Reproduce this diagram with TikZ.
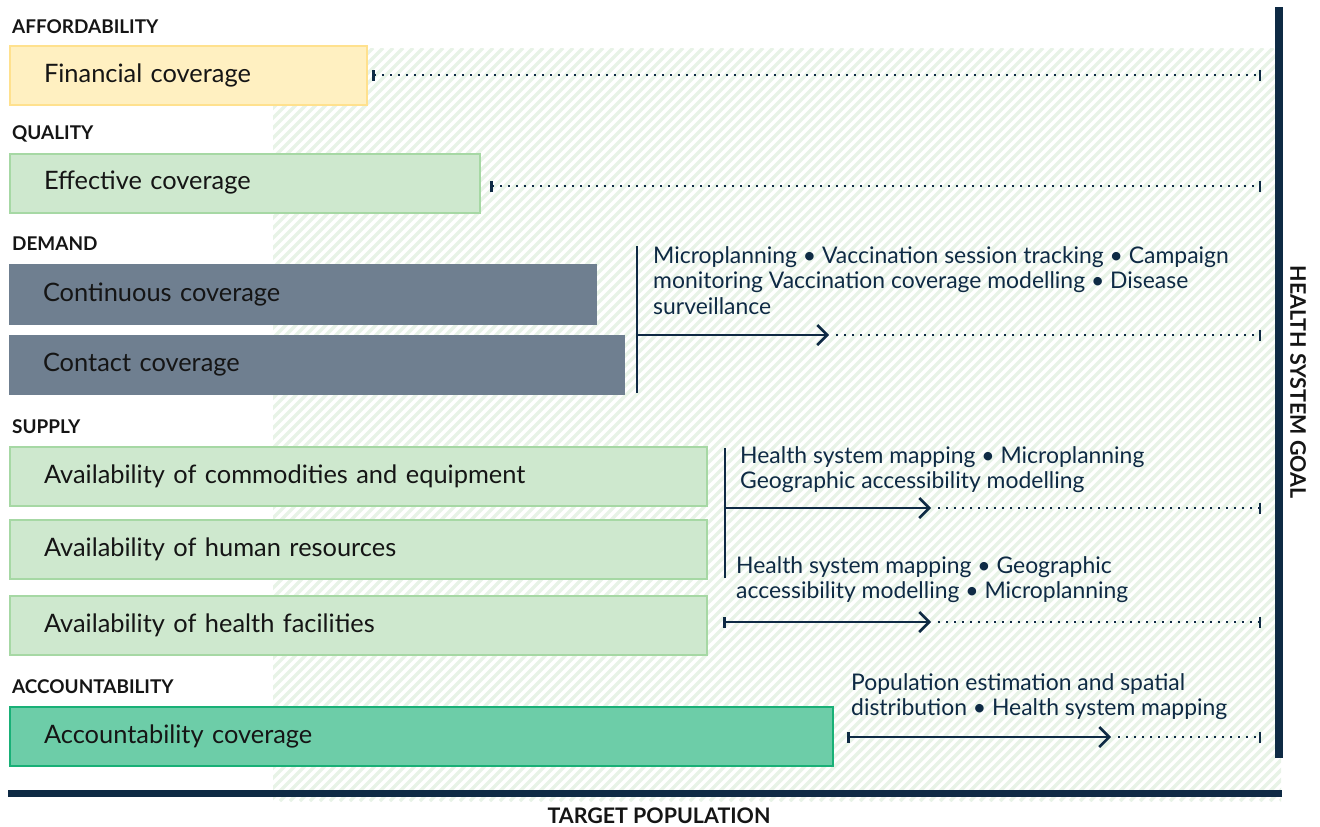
\documentclass[tikz,border=0pt]{standalone}
\usepackage{fontspec}
\setmainfont{Lato}
\usetikzlibrary{arrows.meta}
\definecolor{finFill}{HTML}{FFF0C1}
\definecolor{finLine}{HTML}{FFE18E}
\definecolor{lgFill}{HTML}{CEE8CE}
\definecolor{lgLine}{HTML}{A6D8A4}
\definecolor{slate}{HTML}{6F7F90}
\definecolor{accFill}{HTML}{6DCDA8}
\definecolor{accLine}{HTML}{19B077}
\definecolor{navy}{HTML}{0E2A44}
\definecolor{hatch}{HTML}{E8F3E7}
\definecolor{ink}{HTML}{151515}
\begin{document}
\begin{tikzpicture}[x = 1bp, y = -1bp]
\tikzstyle{barStyle} = [anchor = west, minimum height = 59bp, inner xsep = 34bp, inner ysep = 0pt, align = left, line width = 2bp, text = ink, font = \fontsize{25.5}{30}\selectfont]
\tikzstyle{yellowBar} = [barStyle, fill = finFill, draw = finLine]
\tikzstyle{greenBar} = [barStyle, fill = lgFill, draw = lgLine]
\tikzstyle{slateBar} = [barStyle, fill = slate]
\tikzstyle{tealBar} = [barStyle, fill = accFill, draw = accLine]
\tikzstyle{catStyle} = [anchor = base west, inner sep = 0pt, text = ink, font = \bfseries\fontsize{19}{22}\selectfont]
\tikzstyle{axisStyle} = [inner sep = 0pt, text = ink, font = \bfseries\fontsize{21.5}{24}\selectfont]
\tikzstyle{noteStyle} = [anchor = north west, inner sep = 0pt, align = left, text = navy, font = \fontsize{23}{26}\selectfont]
\tikzstyle{solidArrow} = [navy, line width = 2.5bp, -{Straight Barb[length = 10bp, width = 20bp]}]
\tikzstyle{dotLine} = [navy, line width = 2bp, dash pattern = on 2bp off 6bp]
\useasboundingbox (0,0) rectangle (1320,826);
\begin{scope}
\clip (273,48) rectangle (1281,801);
\foreach \k in {-480,-470,...,1290}
  \draw[hatch, line width = 3.5bp] (\k,801) -- ++(753,-753);
\end{scope}
\node[catStyle] (afford) at (12,33) {AFFORDABILITY};
\node[catStyle] (quality) at (12,139) {QUALITY};
\node[catStyle] (demand) at (12,250) {DEMAND};
\node[catStyle] (supply) at (12,433) {SUPPLY};
\node[catStyle] (account) at (12,693) {ACCOUNTABILITY};
\node[yellowBar, minimum width = 357bp, text width = 289bp] (finBar) at (9,75) {Financial coverage};
\node[greenBar, minimum width = 470bp, text width = 402bp] (effBar) at (9,183) {Effective coverage};
\node[slateBar, minimum width = 588bp, text width = 520bp, minimum height = 61bp] (contBar) at (8,294.5) {Continuous coverage};
\node[slateBar, minimum width = 616bp, text width = 548bp, minimum height = 60bp] (contactBar) at (8,365) {Contact coverage};
\node[greenBar, minimum width = 697bp, text width = 629bp] (commBar) at (9,476.5) {Availability of commodities and equipment};
\node[greenBar, minimum width = 697bp, text width = 629bp] (humBar) at (9,549.5) {Availability of human resources};
\node[greenBar, minimum width = 697bp, text width = 629bp] (facBar) at (9,625.5) {Availability of health facilities};
\node[tealBar, minimum width = 823bp, text width = 755bp] (accBar) at (9,736.5) {Accountability coverage};
\node[noteStyle] (demNote) at (653,246) {Microplanning • Vaccination session tracking • Campaign\\monitoring Vaccination coverage modelling • Disease\\surveillance};
\node[noteStyle] (supNoteA) at (740,446) {Health system mapping • Microplanning\\Geographic accessibility modelling};
\node[noteStyle] (supNoteB) at (736,556) {Health system mapping • Geographic\\accessibility modelling • Microplanning};
\node[noteStyle] (accNote) at (851,673) {Population estimation and spatial\\distribution • Health system mapping};
\node[axisStyle, rotate = -90] (goal) at (1298,382) {HEALTH SYSTEM GOAL};
\node[axisStyle] (target) at (659,816) {TARGET POPULATION};
\coordinate (finStart) at (372,75);
\coordinate (finEnd) at (1261,75);
\coordinate (effStart) at (490,186);
\coordinate (effEnd) at (1261,186);
\coordinate (demTop) at (637,246);
\coordinate (demBot) at (637,393);
\coordinate (demMid) at (637,335);
\coordinate (demTip) at (829,335);
\coordinate (demDot) at (836,335);
\coordinate (demEnd) at (1261,335);
\coordinate (supTop) at (725,448);
\coordinate (supBot) at (725,578);
\coordinate (supMid) at (725,508);
\coordinate (supTip) at (931,508);
\coordinate (supDot) at (938,508);
\coordinate (supEnd) at (1261,508);
\coordinate (facStart) at (723,622);
\coordinate (facTip) at (931,622);
\coordinate (facDot) at (938,622);
\coordinate (facEnd) at (1261,622);
\coordinate (accStart) at (847,737);
\coordinate (accTip) at (1111,737);
\coordinate (accDot) at (1118,737);
\coordinate (accEnd) at (1261,737);
\coordinate (goalTop) at (1279,7);
\coordinate (goalBot) at (1279,758);
\coordinate (popLeft) at (8,793.5);
\coordinate (popRight) at (1282,793.5);
\draw[dotLine, {Bar[width = 11bp, line width = 2.5bp]}-{Bar[width = 11bp, line width = 2.5bp]}] (finStart) -- (finEnd);
\draw[dotLine, {Bar[width = 11bp, line width = 2.5bp]}-{Bar[width = 11bp, line width = 2.5bp]}] (effStart) -- (effEnd);
\draw[navy, line width = 2.5bp] (demTop) -- (demBot);
\draw[solidArrow] (demMid) -- (demTip);
\draw[dotLine, -{Bar[width = 11bp, line width = 2.5bp]}] (demDot) -- (demEnd);
\draw[navy, line width = 2.5bp] (supTop) -- (supBot);
\draw[solidArrow] (supMid) -- (supTip);
\draw[dotLine, -{Bar[width = 11bp, line width = 2.5bp]}] (supDot) -- (supEnd);
\draw[solidArrow, {Bar[width = 11bp]}-{Straight Barb[length = 10bp, width = 20bp]}] (facStart) -- (facTip);
\draw[dotLine, -{Bar[width = 11bp, line width = 2.5bp]}] (facDot) -- (facEnd);
\draw[solidArrow, {Bar[width = 11bp]}-{Straight Barb[length = 10bp, width = 20bp]}] (accStart) -- (accTip);
\draw[dotLine, -{Bar[width = 11bp, line width = 2.5bp]}] (accDot) -- (accEnd);
\draw[navy, line width = 8bp] (goalTop) -- (goalBot);
\draw[navy, line width = 7bp] (popLeft) -- (popRight);
\end{tikzpicture}
\end{document}
